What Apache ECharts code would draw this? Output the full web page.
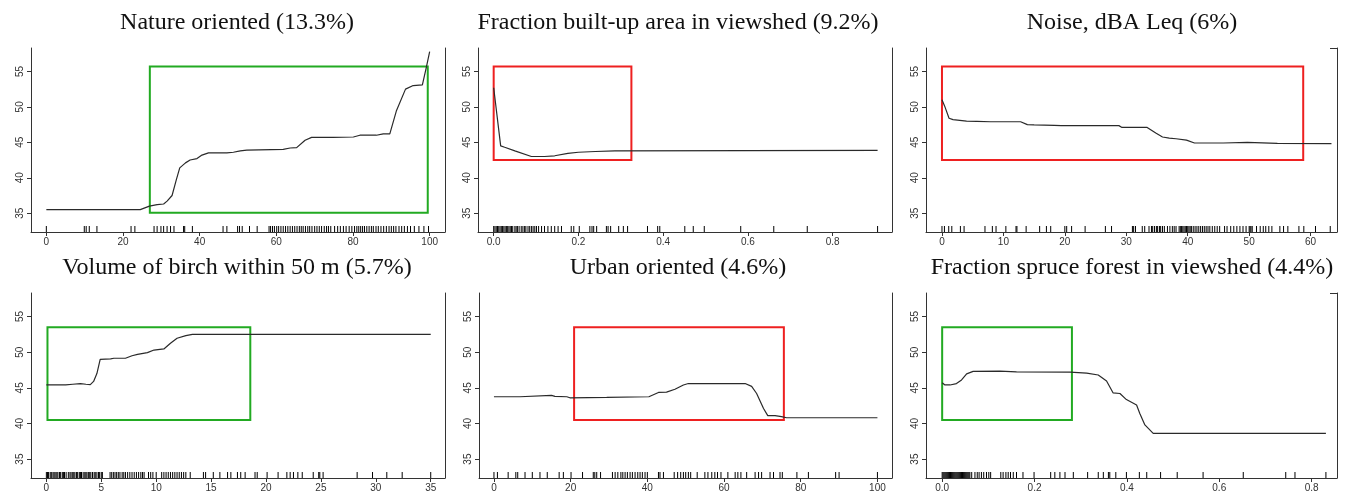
<!DOCTYPE html>
<html><head><meta charset="utf-8">
<script src="https://cdn.jsdelivr.net/npm/echarts@6/dist/echarts.min.js"></script>
<style>html,body{margin:0;padding:0;background:#fff}#c{width:1346px;height:496px}</style>
</head><body><div id="c"></div>
<script>
// ---------- DATA ----------
const titles = ["Nature oriented (13.3%)", "Fraction built-up area in viewshed (9.2%)", "Noise, dBA Leq (6%)",
  "Volume of birch within 50 m (5.7%)", "Urban oriented (4.6%)", "Fraction spruce forest in viewshed (4.4%)"];

const yTicks = [35, 40, 45, 50, 55];
const yTickLabels = ["35", "40", "45", "50", "55"];

const natureTicks = [0, 20, 40, 60, 80, 100];
const natureTickLabels = ["0", "20", "40", "60", "80", "100"];
const builtTicks = [0, 0.2, 0.4, 0.6, 0.8];
const builtTickLabels = ["0.0", "0.2", "0.4", "0.6", "0.8"];
const noiseTicks = [0, 10, 20, 30, 40, 50, 60];
const noiseTickLabels = ["0", "10", "20", "30", "40", "50", "60"];
const birchTicks = [0, 5, 10, 15, 20, 25, 30, 35];
const birchTickLabels = ["0", "5", "10", "15", "20", "25", "30", "35"];
const urbanTicks = [0, 20, 40, 60, 80, 100];
const urbanTickLabels = ["0", "20", "40", "60", "80", "100"];
const spruceTicks = [0, 0.2, 0.4, 0.6, 0.8];
const spruceTickLabels = ["0.0", "0.2", "0.4", "0.6", "0.8"];

const natureX = [0, 24.5, 26.9, 28.9, 30.6, 31.5, 32.8, 33.9, 34.8, 36.3, 37.5, 39.3, 40.6, 42.3, 47.1, 48.8, 50.6, 52.3, 61.8, 63.6, 65.3, 67.5, 69.2, 74.8, 80.1, 81.8, 86.1, 87.9, 89.6, 91.3, 93.7, 95.7, 98.1, 99.1, 100];
const natureY = [35.5, 35.5, 36.0, 36.2, 36.3, 36.7, 37.5, 39.7, 41.4, 42.1, 42.5, 42.7, 43.2, 43.5, 43.5, 43.6, 43.8, 43.9, 44.0, 44.2, 44.25, 45.3, 45.7, 45.7, 45.75, 46.0, 46.0, 46.2, 46.2, 49.4, 52.5, 53.0, 53.1, 55.5, 57.8];
const natureRug = [0, 9.9, 10.4, 11.2, 13.2, 22.1, 23.1, 28.1, 28.9, 29.9, 30.6, 31.5, 32.4, 33.3, 35.8, 36.1, 38.1, 46.1, 47.1, 49.9, 50.4, 51.1, 53, 55, 58.1, 58.5, 59, 59.5, 60.1, 60.6, 61.2, 61.8, 62.4, 63, 63.6, 64.2, 64.8, 65.4, 66, 66.5, 67, 67.6, 68.2, 68.7, 69.3, 70, 70.6, 71.2, 71.8, 72.5, 73.1, 73.6, 74.2, 75.2, 76, 76.7, 77.5, 78.2, 79, 79.7, 80.4, 81, 81.5, 82, 82.5, 83, 83.6, 84.2, 84.8, 85.3, 86, 86.6, 87.3, 88, 88.7, 89.4, 90, 90.6, 91.2, 92, 92.7, 93.4, 94.2, 95, 96, 97.2, 98.5, 99.7];
const natureBox = [27.0, 99.5, 35.05, 55.7];

const builtX = [0, 0.0165, 0.026, 0.05, 0.089, 0.12, 0.144, 0.175, 0.2, 0.24, 0.286, 0.29, 0.906];
const builtY = [52.7, 44.5, 44.3, 43.8, 43.0, 43.0, 43.1, 43.45, 43.6, 43.7, 43.8, 43.9, 43.85];
const builtRug = [0, 0.003, 0.006, 0.009, 0.012, 0.015, 0.018, 0.021, 0.024, 0.027, 0.03, 0.033, 0.036, 0.039, 0.042, 0.045, 0.05, 0.053, 0.056, 0.06, 0.065, 0.069, 0.073, 0.076, 0.081, 0.085, 0.089, 0.093, 0.097, 0.101, 0.106, 0.113, 0.12, 0.128, 0.136, 0.144, 0.152, 0.16, 0.183, 0.189, 0.202, 0.227, 0.232, 0.236, 0.243, 0.266, 0.27, 0.276, 0.295, 0.306, 0.316, 0.363, 0.387, 0.392, 0.451, 0.471, 0.497, 0.583, 0.661, 0.74, 0.906];
const builtBox = [0.0, 0.325, 42.5, 55.7];

const noiseX = [0, 0.44, 1.15, 1.8, 2.9, 4.0, 5.7, 7.9, 12.8, 13.9, 15.0, 18.3, 19.4, 28.8, 29.3, 33.4, 34.8, 35.9, 37.0, 38.1, 39.8, 41.1, 42.5, 45.8, 46.1, 49.7, 50.0, 54.6, 54.9, 63.4];
const noiseY = [51.0, 50.1, 48.4, 48.2, 48.1, 48.0, 47.96, 47.9, 47.9, 47.5, 47.45, 47.4, 47.35, 47.35, 47.1, 47.1, 46.3, 45.75, 45.6, 45.5, 45.3, 44.9, 44.9, 44.9, 45.05, 45.0, 44.85, 44.85, 44.8, 44.8];
const noiseRug = [0, 0.4, 1.1, 1.6, 3.0, 3.6, 7.0, 8.2, 8.8, 10.4, 12.05, 12.2, 13.7, 15.9, 17.0, 17.7, 20, 20.3, 21.1, 23.3, 26.6, 27.6, 31, 31.2, 31.5, 32.6, 33, 33.7, 34.1, 34.3, 34.6, 34.9, 35.1, 35.4, 35.6, 35.9, 36.2, 36.7, 37.1, 37.5, 37.8, 38.1, 38.6, 38.8, 39.0, 39.2, 39.4, 39.6, 39.8, 40.0, 40.2, 40.4, 40.6, 40.9, 41.2, 41.5, 41.8, 42.1, 42.4, 42.7, 43.0, 43.3, 43.6, 44.0, 44.4, 44.8, 45.2, 46, 46.4, 47, 47.5, 48, 48.5, 49, 49.5, 50, 50.15, 50.3, 50.5, 51.2, 51.8, 52.3, 52.7, 53.2, 53.7, 55, 55.6, 56.3, 58.1, 58.9, 60.8, 63.2];
const noiseBox = [0.0, 58.8, 42.5, 55.7];

const birchX = [0, 1.76, 2.4, 3.1, 3.6, 4.0, 4.3, 4.6, 4.9, 5.85, 6.15, 7.2, 7.8, 8.3, 9.2, 9.8, 10.7, 10.85, 11.3, 11.9, 12.7, 13.3, 35.0];
const birchY = [45.4, 45.4, 45.5, 45.6, 45.5, 45.45, 45.9, 47.0, 49.0, 49.05, 49.15, 49.15, 49.5, 49.7, 49.94, 50.3, 50.45, 50.55, 51.25, 51.95, 52.33, 52.5, 52.5];
const birchRug = [0, 0.1, 0.2, 0.35, 0.45, 0.6, 0.7, 0.8, 0.95, 1.05, 1.2, 1.3, 1.45, 1.55, 1.65, 1.8, 2.0, 2.15, 2.25, 2.4, 2.5, 2.6, 2.75, 2.85, 3.0, 3.1, 3.2, 3.35, 3.5, 3.6, 3.7, 3.85, 3.95, 4.05, 4.2, 4.35, 4.45, 4.6, 4.75, 4.85, 5.0, 5.1, 5.8, 5.95, 6.1, 6.25, 6.4, 6.55, 6.7, 6.9, 7.05, 7.2, 7.4, 7.6, 7.8, 8.0, 8.2, 8.4, 8.6, 8.75, 8.9, 9.3, 9.5, 9.7, 10.0, 10.5, 10.7, 10.9, 11.1, 11.3, 11.5, 11.7, 11.9, 12.1, 12.3, 12.5, 12.7, 13.1, 14.3, 14.5, 15.2, 15.8, 16.5, 16.8, 17.4, 17.7, 18.1, 19.0, 19.2, 20.1, 21.1, 21.9, 22.2, 22.5, 22.9, 23.3, 24.3, 24.8, 24.9, 25.2, 28.3, 29.7, 31, 32.4, 35];
const birchBox = [0.1, 18.57, 40.5, 53.5];

const urbanX = [0, 6.8, 7.2, 15.0, 15.9, 19.0, 19.8, 29.4, 29.8, 40.4, 42.9, 45.0, 47.2, 49.4, 50.7, 65.5, 67.2, 68.5, 70.3, 71.4, 73.3, 75.0, 76.3, 100];
const urbanY = [43.75, 43.75, 43.95, 43.95, 43.8, 43.75, 43.6, 43.65, 43.75, 43.75, 44.35, 44.4, 44.8, 45.4, 45.6, 45.6, 45.2, 44.2, 42.1, 41.1, 41.1, 40.95, 40.8, 40.8];
const urbanRug = [0, 0.9, 3.7, 5.7, 6.2, 8.1, 10, 12, 13.9, 17, 18.1, 20.1, 23.1, 25.9, 26.3, 26.8, 27.8, 30.9, 31.6, 32.3, 33.1, 33.6, 34.2, 34.8, 35.5, 36.1, 36.8, 37.5, 38.1, 38.7, 39.4, 40, 42.9, 43.3, 44.2, 47, 47.9, 48.7, 49.4, 50, 50.7, 51.3, 53, 55, 55.8, 56.8, 57.6, 58.3, 59.2, 61, 62.9, 63.6, 64.4, 65.9, 68.1, 69, 69.8, 72, 72.9, 74.6, 75.2, 79, 82, 89.1, 90, 100];
const urbanBox = [20.9, 75.6, 40.5, 53.5];

const spruceX = [0, 0.006, 0.017, 0.031, 0.042, 0.053, 0.067, 0.125, 0.161, 0.277, 0.313, 0.338, 0.356, 0.370, 0.385, 0.399, 0.421, 0.428, 0.439, 0.457, 0.831];
const spruceY = [45.7, 45.4, 45.4, 45.6, 46.1, 46.95, 47.3, 47.35, 47.25, 47.2, 47.05, 46.8, 45.95, 44.3, 44.2, 43.35, 42.6, 41.4, 39.8, 38.6, 38.6];
const spruceRug = [0, 0.002, 0.004, 0.006, 0.008, 0.01, 0.012, 0.014, 0.016, 0.018, 0.02, 0.022, 0.024, 0.026, 0.028, 0.03, 0.032, 0.034, 0.036, 0.038, 0.04, 0.042, 0.044, 0.046, 0.048, 0.05, 0.052, 0.054, 0.056, 0.058, 0.06, 0.064, 0.071, 0.076, 0.08, 0.085, 0.09, 0.096, 0.101, 0.105, 0.127, 0.132, 0.138, 0.143, 0.148, 0.154, 0.161, 0.175, 0.199, 0.235, 0.244, 0.255, 0.266, 0.284, 0.315, 0.338, 0.349, 0.36, 0.363, 0.376, 0.399, 0.427, 0.443, 0.473, 0.509, 0.565, 0.652, 0.744, 0.764, 0.831];
const spruceBox = [0.0, 0.281, 40.5, 53.5];

// ---------- LAYOUT / STYLE ----------
const panels = [
  {x: natureX, y: natureY, rug: natureRug, box: natureBox, ticks: natureTicks, labels: natureTickLabels},
  {x: builtX, y: builtY, rug: builtRug, box: builtBox, ticks: builtTicks, labels: builtTickLabels},
  {x: noiseX, y: noiseY, rug: noiseRug, box: noiseBox, ticks: noiseTicks, labels: noiseTickLabels},
  {x: birchX, y: birchY, rug: birchRug, box: birchBox, ticks: birchTicks, labels: birchTickLabels},
  {x: urbanX, y: urbanY, rug: urbanRug, box: urbanBox, ticks: urbanTicks, labels: urbanTickLabels},
  {x: spruceX, y: spruceY, rug: spruceRug, box: spruceBox, ticks: spruceTicks, labels: spruceTickLabels}
];
const boxColors = ['#22aa22', '#ee2020', '#ee2020', '#22aa22', '#ee2020', '#22aa22'];
const grids = [
  {left: 31, top: 48, width: 414, height: 184},
  {left: 478, top: 48, width: 414, height: 184},
  {left: 926, top: 48, width: 411, height: 184},
  {left: 31, top: 293, width: 414, height: 185},
  {left: 479, top: 293, width: 413, height: 185},
  {left: 926, top: 293, width: 411, height: 185}
];
const xRanges = [[-4, 104], [-0.037, 0.94], [-2.6, 64.3], [-1.4, 36.3], [-3.9, 103.8], [-0.035, 0.855]];
const yRange = [32.35, 58.3];
const titleCenters = [237, 678, 1132, 237, 678, 1132];
const titleTops = [11, 11, 11, 256, 256, 256];

const axisColor = '#333';
const labelStyle = {color: '#333', fontSize: 10, fontFamily: 'Liberation Sans, Arial, sans-serif'};

const option = {
  animation: false,
  backgroundColor: '#fff',
  title: titles.map((t, i) => ({
    text: t, left: titleCenters[i], top: titleTops[i], textAlign: 'center', padding: 0,
    textStyle: {fontFamily: 'Liberation Serif, serif', fontWeight: 'normal', fontSize: 24, color: '#111'}
  })),
  grid: grids.map(g => Object.assign({containLabel: false}, g)),
  xAxis: panels.map((p, i) => ({
    type: 'value', gridIndex: i, min: xRanges[i][0], max: xRanges[i][1],
    axisLine: {show: true, onZero: false, lineStyle: {color: axisColor, width: 1}},
    axisTick: {show: true, length: 4, customValues: p.ticks, lineStyle: {color: axisColor}},
    axisLabel: Object.assign({customValues: p.ticks, margin: 5,
      formatter: v => { const k = p.ticks.findIndex(t => Math.abs(t - v) < 1e-9); return k >= 0 ? p.labels[k] : ''; }}, labelStyle),
    splitLine: {show: false}
  })),
  yAxis: [].concat(
    panels.map((p, i) => ({
      type: 'value', gridIndex: i, min: yRange[0], max: yRange[1],
      axisLine: {show: true, onZero: false, lineStyle: {color: axisColor, width: 1}},
      axisTick: {show: true, length: 4, customValues: yTicks, lineStyle: {color: axisColor}},
      axisLabel: Object.assign({customValues: yTicks, rotate: 90, margin: 6,
        formatter: v => { const k = yTicks.findIndex(t => Math.abs(t - v) < 1e-9); return k >= 0 ? yTickLabels[k] : ''; }}, labelStyle),
      splitLine: {show: false}
    })),
    panels.map((p, i) => ({
      type: 'value', gridIndex: i, position: 'right', min: yRange[0], max: yRange[1],
      axisLine: {show: true, onZero: false, lineStyle: {color: axisColor, width: 1}},
      axisTick: {show: false}, axisLabel: {show: false}, splitLine: {show: false}
    }))
  ),
  series: [].concat(
    panels.map((p, i) => ({
      type: 'line', xAxisIndex: i, yAxisIndex: i, showSymbol: false, symbol: 'none', silent: true,
      data: p.x.map((x, k) => [x, p.y[k]]),
      lineStyle: {color: '#2a2a2a', width: 1.2},
      markArea: {
        silent: true,
        itemStyle: {color: 'rgba(0,0,0,0)', borderColor: boxColors[i], borderWidth: 2},
        data: [[{coord: [p.box[0], p.box[2]]}, {coord: [p.box[1], p.box[3]]}]]
      }
    })),
    panels.map((p, i) => ({
      type: 'custom', xAxisIndex: i, yAxisIndex: i, silent: true, clip: false,
      data: p.rug.map(v => [v, yRange[0]]),
      encode: {x: 0, y: 1},
      renderItem: (params, api) => {
        const pt = api.coord([api.value(0), api.value(1)]);
        return {type: 'line', shape: {x1: pt[0], y1: pt[1], x2: pt[0], y2: pt[1] - 6},
          style: {stroke: '#000', lineWidth: 1}};
      }
    }))
  ),
  graphic: [2, 5].map(i => ({
    type: 'line', silent: true,
    shape: {x1: grids[i].left + grids[i].width - 7, y1: grids[i].top + 0.5, x2: grids[i].left + grids[i].width, y2: grids[i].top + 0.5},
    style: {stroke: axisColor, lineWidth: 1}
  }))
};

const chart = echarts.init(document.getElementById('c'), null, {renderer: 'canvas'});
chart.setOption(option);
</script>
</body></html>
